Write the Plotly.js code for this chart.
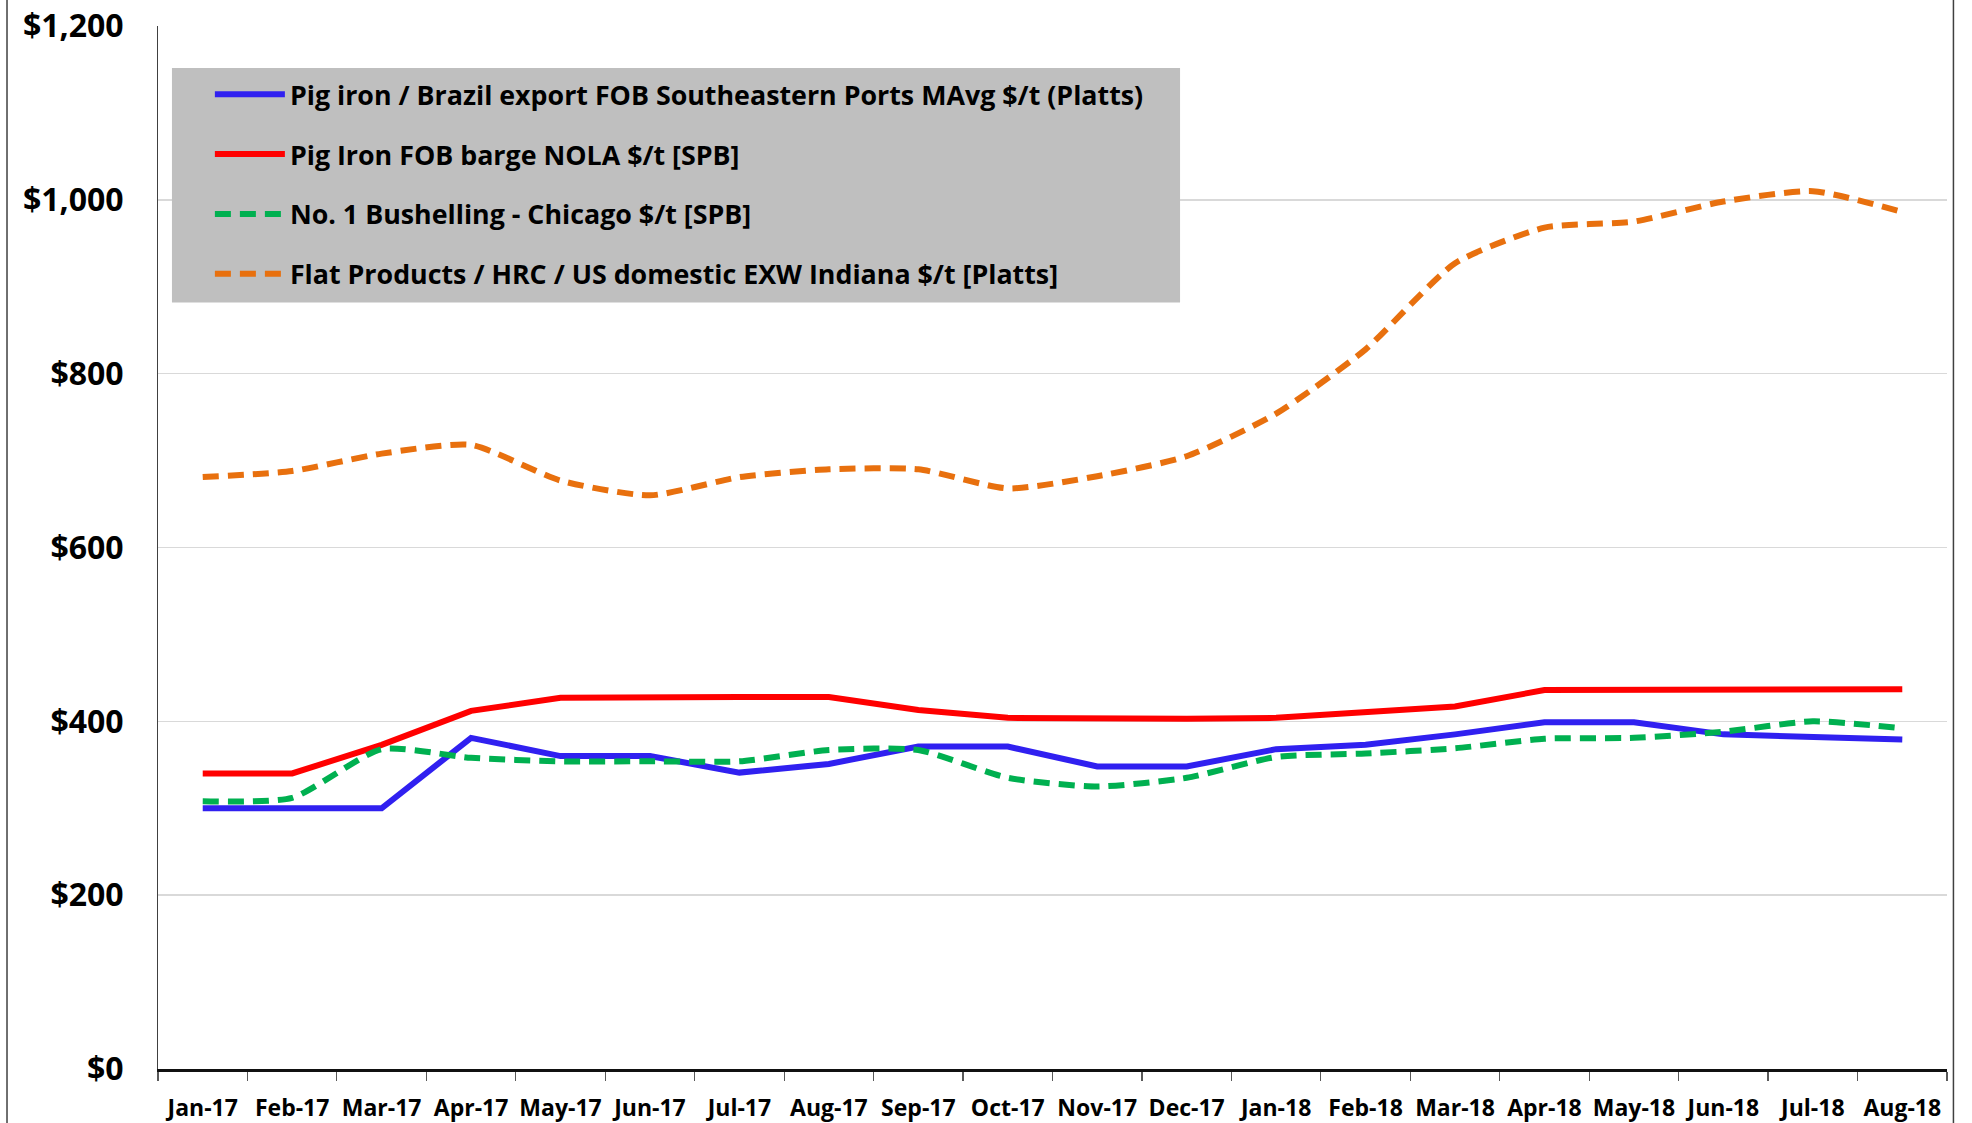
<!DOCTYPE html>
<html>
<head>
<meta charset="utf-8">
<script src="https://cdn.plot.ly/plotly-3.0.1.min.js"></script>
<style>
  html, body { margin: 0; padding: 0; background: #fff; }
  #chart { width: 1972px; height: 1123px; }
</style>
</head>
<body>
<div id="chart"></div>
<script>
const months = ['Jan-17','Feb-17','Mar-17','Apr-17','May-17','Jun-17','Jul-17','Aug-17','Sep-17','Oct-17',
                'Nov-17','Dec-17','Jan-18','Feb-18','Mar-18','Apr-18','May-18','Jun-18','Jul-18','Aug-18'];

const pigIronBrazil = [300, 300, 300, 381, 360, 360, 341, 351, 371, 371,
                       348, 348, 368, 373, 385, 399, 399, 385, 382, 379];
const pigIronNola   = [340, 340, 373, 412, 427, 428, 428, 428, 413, 404,
                       403, 403, 404, 411, 417, 436, 436, 436, 437, 437];
const bushelling    = [308, 312, 368, 358, 354, 354, 354, 367, 367, 335,
                       325, 335, 359, 363, 369, 380, 381, 388, 400, 392];
const hrcIndiana    = [681, 688, 708, 718, 677, 660, 681, 690, 690, 668,
                       682, 705, 754, 828, 927, 968, 975, 998, 1010, 986];

const yTickValues = [0, 200, 400, 600, 800, 1000, 1200];
const yTickLabels = ['$0', '$200', '$400', '$600', '$800', '$1,000', '$1,200'];

const seriesNames = [
  'Pig iron / Brazil export FOB Southeastern Ports MAvg $/t (Platts)',
  'Pig Iron FOB barge NOLA $/t [SPB]',
  'No. 1 Bushelling - Chicago $/t [SPB]',
  'Flat Products / HRC / US domestic EXW Indiana $/t [Platts]'
];

const FONT = 'Open Sans, Liberation Sans, Arial, sans-serif';

const traces = [
  { x: months, y: pigIronBrazil, name: seriesNames[0], legendgroup: 'a',
    mode: 'lines', line: { color: '#3020F0', width: 6 } },
  { x: months, y: pigIronNola, name: seriesNames[1], legendgroup: 'b',
    mode: 'lines', line: { color: '#FF0000', width: 6 } },
  { x: months, y: bushelling, name: seriesNames[2], legendgroup: 'c',
    mode: 'lines', line: { color: '#00B050', width: 6, dash: '16px,9px', shape: 'spline', smoothing: 0.6 } },
  { x: months, y: hrcIndiana, name: seriesNames[3], legendgroup: 'd',
    mode: 'lines', line: { color: '#E8700E', width: 6, dash: '16px,9px', shape: 'spline', smoothing: 0.6 } }
].map(t => Object.assign({ type: 'scatter', hoverinfo: 'x+y' }, t));

const layout = {
  width: 1972, height: 1123,
  margin: { l: 158, r: 25, t: 26, b: 54 },
  paper_bgcolor: '#FFFFFF',
  plot_bgcolor: '#FFFFFF',
  font: { family: FONT, color: '#000000', weight: 'bold' },
  showlegend: true,
  legend: {
    x: 0.029, y: 0.9575, xanchor: 'left', yanchor: 'top',
    bgcolor: 'rgba(0,0,0,0)', borderwidth: 0,
    font: { family: FONT, size: 26.8, color: '#000000', weight: 'bold' },
    traceorder: 'grouped', tracegroupgap: 22,
    itemwidth: 70
  },
  xaxis: {
    type: 'category',
    range: [-0.5, 19.5],
    showgrid: false,
    showline: true, linecolor: '#111111', linewidth: 2.5,
    ticks: 'outside', ticklen: 9, tickwidth: 1.2, tickcolor: '#595959',
    tickson: 'boundaries', tickangle: 0, ticklabelstandoff: 17,
    tickfont: { family: FONT, size: 23, color: '#000000', weight: 'bold' },
    zeroline: false, fixedrange: true
  },
  yaxis: {
    range: [0, 1200],
    tickmode: 'array', tickvals: yTickValues, ticktext: yTickLabels,
    showgrid: true, gridcolor: '#D9D9D9', gridwidth: 1.5,
    showline: true, linecolor: '#404040', linewidth: 1,
    ticks: '', ticklabelstandoff: 27,
    tickfont: { family: FONT, size: 32, color: '#000000', weight: 'bold' },
    zeroline: false, fixedrange: true
  },
  shapes: [
    { type: 'rect', xref: 'paper', yref: 'paper', layer: 'above',
      x0: 0.0078, x1: 0.5713, y0: 0.7349, y1: 0.9598,
      fillcolor: '#BFBFBF', line: { width: 0 } },
    { type: 'line', xref: 'paper', yref: 'paper', x0: -0.0844, x1: -0.0844, y0: -0.2, y1: 1.2,
      line: { color: '#404040', width: 1.5 } },
    { type: 'line', xref: 'paper', yref: 'paper', x0: 1.0036, x1: 1.0036, y0: -0.2, y1: 1.2,
      line: { color: '#404040', width: 1.5 } }
  ]
};

Plotly.newPlot('chart', traces, layout, { displayModeBar: false, staticPlot: true });
</script>
</body>
</html>
